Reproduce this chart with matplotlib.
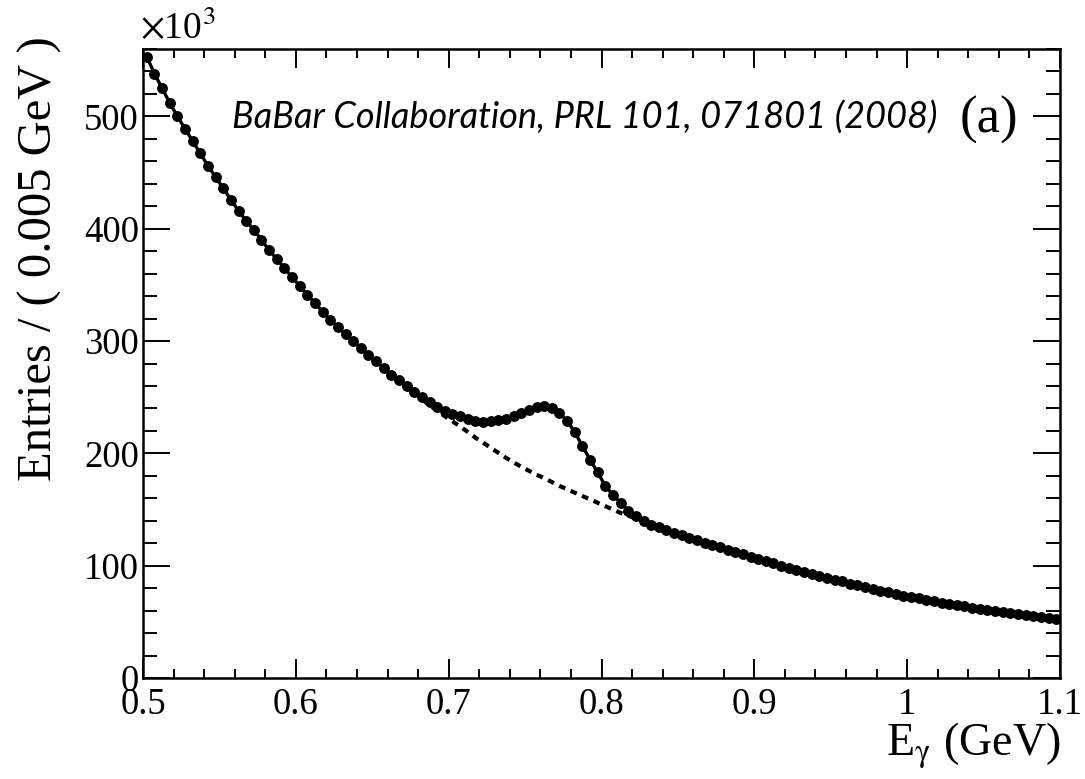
import matplotlib
matplotlib.use('Agg')
import matplotlib.pyplot as plt
import numpy as np
from matplotlib.ticker import MultipleLocator

plt.rcParams['font.family'] = ['Liberation Serif', 'DejaVu Serif']
plt.rcParams['mathtext.fontset'] = 'stix'

# ---- data (entries in units of 10^3 per 0.005 GeV bin) ----
x_min = 0.5
x_max = 1.1
bin_width = 0.005
entries = [
    553, 538, 525, 512, 500, 489, 478, 467, 456, 446,
    436, 426, 416, 407, 399, 390, 381, 373, 365, 357,
    349, 341, 334, 326, 319, 312.5, 306, 300, 294, 288,
    282, 276, 270, 265, 260, 255, 250, 245.5, 241.5, 238,
    235, 233, 231, 229, 228, 228.5, 229.5, 231, 233, 235.5,
    239, 241, 242.5, 240.5, 236, 229, 219, 206.5, 194.5, 183,
    171, 163, 156, 149, 144, 140, 136.5, 134, 131.7, 129.5,
    127.2, 125, 122.8, 120.6, 118.5, 116.3, 114.2, 112, 110, 108,
    106, 104, 102, 100, 98.2, 96.4, 94.6, 92.8, 91, 89.3,
    87.6, 86, 84, 82.4, 80.8, 79.2, 77.7, 76.2, 74.8, 73.4,
    72.1, 70.8, 69.6, 68.4, 67.2, 66.0, 64.9, 63.8, 62.7, 61.6,
    60.6, 59.6, 58.6, 57.7, 56.8, 55.9, 55.0, 54.1, 53.3, 52.5,
]
bkg_x = [0.6825, 0.6875, 0.6925, 0.6975, 0.7025, 0.7075, 0.7125, 0.7175,
         0.7225, 0.7275, 0.7325, 0.7375, 0.7425, 0.7475, 0.7525, 0.7575,
         0.7625, 0.7675, 0.7725, 0.7775, 0.7825, 0.7875, 0.7925, 0.7975,
         0.8025, 0.8075, 0.8125, 0.8175, 0.8225, 0.8275, 0.8325]
bkg_y = [248, 243, 238, 233, 228.5, 224, 219, 214,
         209.5, 205, 200.5, 196, 192, 188, 184.5, 181,
         178, 174.5, 171, 168, 165, 162, 159, 156,
         153, 150, 147, 144.5, 142, 139.5, 137]
x_ticks = [0.5, 0.6, 0.7, 0.8, 0.9, 1.0, 1.1]
x_tick_labels = ['0.5', '0.6', '0.7', '0.8', '0.9', '1', '1.1']
y_ticks = [0, 100, 200, 300, 400, 500]
y_tick_labels = ['0', '100', '200', '300', '400', '500']

centers = x_min + bin_width * (np.arange(len(entries)) + 0.5)

W, H = 1085, 779
fig = plt.figure(figsize=(W / 100, H / 100), dpi=100)
L, R, T, B = 143, 1060, 49, 678
ax = fig.add_axes([L / W, 1 - B / H, (R - L) / W, (B - T) / H])

def fx(px):
    return px / W

def fy(py):
    return 1 - py / H

# background (dashed)
ax.plot(bkg_x, bkg_y, color='black', lw=3.0, linestyle=(0, (1.6, 1.4)),
        dash_capstyle='butt', zorder=2)
# total fit line
ax.plot(centers, entries, color='black', lw=2.4, zorder=3)
# data points
ax.plot(centers, entries, 'o', color='black', markersize=6.8, zorder=4)

ax.set_xlim(x_min, x_max)
ax.set_ylim(0, 560)
ax.set_xticks(x_ticks)
ax.set_xticklabels(x_tick_labels)
ax.set_yticks(y_ticks)
ax.set_yticklabels(y_tick_labels)
ax.xaxis.set_minor_locator(MultipleLocator(0.02))
ax.yaxis.set_minor_locator(MultipleLocator(20))

ax.tick_params(axis='both', which='both', direction='in', top=True, right=True,
               width=1.4, labelsize=26.5, colors='black')
ax.tick_params(axis='x', which='major', length=13.5, pad=7)
ax.tick_params(axis='x', which='minor', length=6.5)
ax.tick_params(axis='y', which='major', length=19.5, pad=3)
ax.tick_params(axis='y', which='minor', length=10)
for s in ax.spines.values():
    s.set_linewidth(1.8)

# labels
fig.text(fx(40), fy(36), 'Entries / ( 0.005 GeV )', rotation=90,
         ha='center', va='top', fontsize=35)
fig.text(fx(1061), fy(745), r'E$_{\mathrm{\gamma}}$ (GeV)', ha='right',
         va='center', fontsize=33)
fig.text(fx(140), fy(28), r'$\times$10$^{3}$', ha='left', va='center',
         fontsize=27)
fig.text(fx(232), fy(118), 'BaBar Collaboration, PRL 101, 071801 (2008)',
         ha='left', va='center', fontsize=26, family=['Lato', 'DejaVu Sans'],
         style='italic')
fig.text(fx(960), fy(120), '(a)', ha='left', va='center', fontsize=38)

fig.savefig('out.png', dpi=100)
